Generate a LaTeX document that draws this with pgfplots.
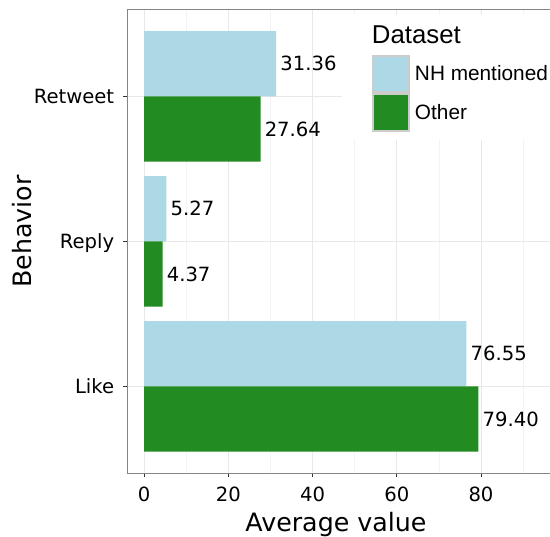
\documentclass[border=0pt]{standalone}
\usepackage{fontspec}
\setmainfont{DejaVu Sans}
\newfontfamily\arial{Liberation Sans}
\usepackage{pgfplots}
\pgfplotsset{compat=1.18}
\definecolor{nhblue}{HTML}{ADD8E6}
\definecolor{othergreen}{HTML}{228B22}
\definecolor{gridmaj}{HTML}{E8E8E8}
\definecolor{gridmin}{HTML}{F3F3F3}
\definecolor{framegray}{HTML}{858585}
\definecolor{tickgray}{HTML}{333333}
\definecolor{keyborder}{HTML}{CCCCCC}

\pgfplotstableread{
y NH Other
0 76.55 79.40
1 5.27 4.37
2 31.36 27.64
}\behaviordata

\begin{document}
\begin{tikzpicture}
\begin{axis}[
  at={(0,0)}, anchor=south west,
  scale only axis,
  width=425.07bp, height=463.8bp,
  xmin=-3.97, xmax=97,
  ymin=-0.6, ymax=2.6,
  xbar, bar width=0.45,
  /pgf/number format/assume math mode=true,
  xtick={0,20,40,60,80},
  minor xtick={10,30,50,70,90},
  ytick={0,1,2},
  yticklabels={Like,Reply,Retweet},
  tick pos=left, tick align=outside,
  major tick length=4bp, minor tick length=0pt,
  every tick/.style={tickgray, line width=1bp},
  xmajorgrids, xminorgrids, ymajorgrids,
  major grid style={gridmaj, line width=1bp},
  minor grid style={gridmin, line width=0.7bp},
  axis line style={framegray, line width=1.2bp},
  tick label style={font=\fontsize{19.6bp}{23bp}\selectfont, text=black},
  xticklabel style={anchor=base, inner sep=0pt, yshift=-24.5bp},
  yticklabel style={anchor=base east, inner sep=0pt, xshift=-9.2bp, yshift=-7.15bp},
  xlabel={Average value}, ylabel={Behavior},
  every axis x label/.style={at={(axis description cs:0.4905,0)}, anchor=base, inner sep=0pt, yshift=-57.7bp, font=\fontsize{25.3bp}{30bp}\selectfont},
  every axis y label/.style={at={(axis description cs:-0.2254,0.5213)}, rotate=90, anchor=base, inner sep=0pt, font=\fontsize{25.3bp}{30bp}\selectfont},
  nodes near coords={\pgfmathprintnumber[fixed,fixed zerofill,precision=2]{\pgfplotspointmeta}},
  point meta=x,
  nodes near coords style={anchor=west, inner xsep=4bp, inner ysep=0pt, font=\fontsize{19.6bp}{23bp}\selectfont, text=black},
  legend cell align=left,
  legend style={at={(axis description cs:0.5046,0.98814)}, anchor=north west, draw=none, fill=white,
    inner xsep=30bp, inner ysep=8.75bp, outer sep=0pt, row sep=0pt,
    font=\arial\fontsize{20.8bp}{24bp}\selectfont,
    nodes={inner xsep=4.5bp, inner ysep=2bp}},
]
\addlegendimage{legend image code/.code={\path[draw=none, fill=none] (0bp,-19.25bp) rectangle (0bp,11.25bp);}}
\addlegendentry{\hspace*{-43bp}{\fontsize{25.8bp}{30bp}\selectfont Dataset}}
\addplot[fill=nhblue, draw=none, bar shift=0.225,
  legend image code/.code={\path[draw=none, fill=none] (0bp,-19.25bp) rectangle (38.5bp,19.25bp);
    \draw[fill=nhblue, draw=keyborder, line width=2bp] (1bp,-18.25bp) rectangle (37.5bp,18.25bp);}]
  table[x=NH, y=y] {\behaviordata};
\addlegendentry{NH mentioned}
\addplot[fill=othergreen, draw=none, bar shift=-0.225,
  legend image code/.code={\path[draw=none, fill=none] (0bp,-19.25bp) rectangle (38.5bp,19.25bp);
    \draw[fill=othergreen, draw=keyborder, line width=2bp] (1bp,-18.25bp) rectangle (37.5bp,18.25bp);}]
  table[x=Other, y=y] {\behaviordata};
\addlegendentry{Other}
\end{axis}
\pgfresetboundingbox
\path[use as bounding box] (-127.5bp,-63.7bp) rectangle (422.5bp,473.3bp);
\end{tikzpicture}
\end{document}
